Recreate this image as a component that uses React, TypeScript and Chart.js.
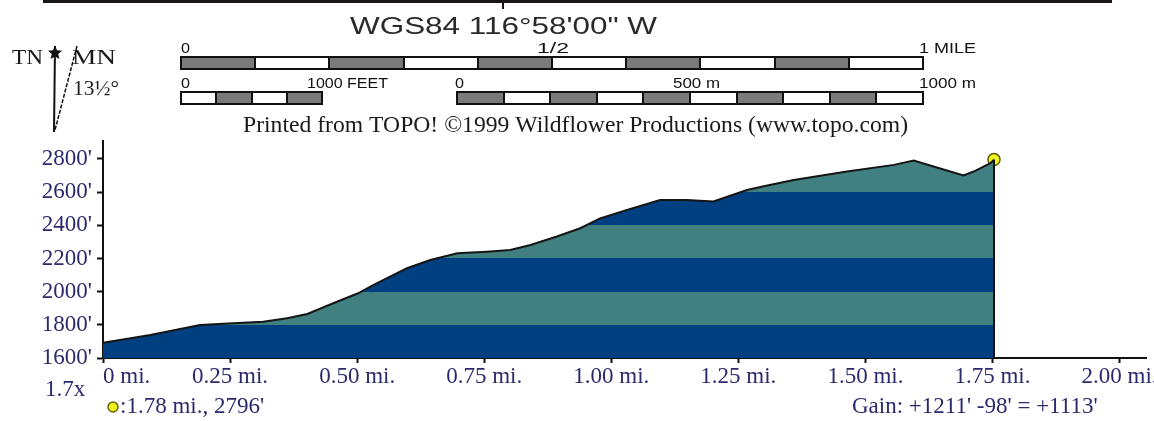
import React, { useEffect, useRef } from 'react';
import { Chart, registerables } from 'chart.js';

Chart.register(...registerables);

const distances = [0, 0.093, 0.191, 0.256, 0.315, 0.362, 0.402, 0.453, 0.502, 0.526, 0.551, 0.598, 0.644, 0.697, 0.755, 0.801, 0.841, 0.893, 0.939, 0.978, 1.031, 1.096, 1.149, 1.201, 1.267, 1.30, 1.359, 1.464, 1.556, 1.595, 1.634, 1.693, 1.713, 1.746, 1.753];
const elevations = [1692, 1739, 1799, 1809, 1819, 1839, 1865, 1930, 1990, 2030, 2070, 2141, 2191, 2231, 2241, 2251, 2281, 2332, 2382, 2442, 2492, 2553, 2553, 2543, 2613, 2635, 2673, 2724, 2764, 2790, 2754, 2700, 2724, 2774, 2796];

const xTickValues = [0, 0.25, 0.5, 0.75, 1.0, 1.25, 1.5, 1.75, 2.0];
const xTickLabels = ['0 mi.', '0.25 mi.', '0.50 mi.', '0.75 mi.', '1.00 mi.', '1.25 mi.', '1.50 mi.', '1.75 mi.', '2.00 mi.'];
const yTickValues = [1600, 1800, 2000, 2200, 2400, 2600, 2800];
const yTickLabels = ["1600'", "1800'", "2000'", "2200'", "2400'", "2600'", "2800'"];

const markerLabel = ':1.78 mi., 2796\'';
const gainLabel = "Gain: +1211' -98' = +1113'";
const scaleLabel = '1.7x';
const datumLabel = 'WGS84 116°58\'00" W';
const printedLabel = 'Printed from TOPO! ©1999 Wildflower Productions (www.topo.com)';

// ---- styling constants ----
const X_MAX = 2.053;
const Y_MIN = 1600;
const Y_MAX = 2908;
const BAND_STEP = 200;
const BAND_TOP = 3000;
const BLUE = '#004080';
const TEAL = '#408080';
const NAVY = '#2a2a6c';
const SERIF = '"Liberation Serif", "Times New Roman", serif';
const SANS = '"Liberation Sans", Arial, sans-serif';
const GRAY = '#7a7a7a';

function drawFit(ctx: CanvasRenderingContext2D, text: string, x: number, base: number, font: string, width: number | null, color: string, align: 'left' | 'center' = 'left') {
  ctx.save();
  ctx.font = font;
  ctx.fillStyle = color;
  ctx.textBaseline = 'alphabetic';
  ctx.textAlign = 'left';
  const w = ctx.measureText(text).width;
  const target = width == null ? w : width;
  const sx = target / w;
  const left = align === 'center' ? x - target / 2 : x;
  ctx.translate(left, base);
  ctx.scale(sx, 1);
  ctx.fillText(text, 0, 0);
  ctx.restore();
}

function drawBar(ctx: CanvasRenderingContext2D, x0: number, x1: number, y0: number, y1: number, n: number, firstGray: boolean) {
  const w = (x1 - x0) / n;
  for (let i = 0; i < n; i++) {
    const gray = (i % 2 === 0) === firstGray;
    ctx.fillStyle = gray ? GRAY : '#ffffff';
    ctx.fillRect(x0 + i * w, y0, w, y1 - y0);
  }
  ctx.strokeStyle = '#111';
  ctx.lineWidth = 2;
  ctx.strokeRect(x0, y0, x1 - x0, y1 - y0);
  ctx.beginPath();
  for (let i = 1; i < n; i++) {
    const x = Math.round(x0 + i * w);
    ctx.moveTo(x, y0);
    ctx.lineTo(x, y1);
  }
  ctx.stroke();
}

function drawStar(ctx: CanvasRenderingContext2D, cx: number, cy: number, r: number) {
  ctx.beginPath();
  for (let i = 0; i < 10; i++) {
    const a = -Math.PI / 2 + (i * Math.PI) / 5;
    const rr = i % 2 === 0 ? r : r * 0.45;
    const px = cx + rr * Math.cos(a);
    const py = cy + rr * Math.sin(a);
    if (i === 0) ctx.moveTo(px, py); else ctx.lineTo(px, py);
  }
  ctx.closePath();
  ctx.fill();
}

const decorPlugin = {
  id: 'topoDecor',
  afterDatasetsDraw(chart: any) {
    const ctx: CanvasRenderingContext2D = chart.ctx;
    const meta = chart.getDatasetMeta(0);
    const last = meta.data[meta.data.length - 1];
    if (last) {
      ctx.save();
      ctx.strokeStyle = '#111';
      ctx.lineWidth = 2;
      ctx.beginPath();
      ctx.moveTo(last.x, last.y);
      ctx.lineTo(last.x, chart.chartArea.bottom);
      ctx.stroke();
      ctx.restore();
    }
  },
  afterDraw(chart: any) {
    const ctx: CanvasRenderingContext2D = chart.ctx;
    ctx.save();
    ctx.fillStyle = '#1a1414';
    ctx.fillRect(43, 0, 1069, 3);
    ctx.fillRect(502, 0, 2, 9);

    drawFit(ctx, datumLabel, 350, 34, `24px ${SANS}`, 307, '#2a2a2a');

    drawBar(ctx, 181, 923, 57, 69, 10, true);
    drawBar(ctx, 181, 322, 92, 104, 4, false);
    drawBar(ctx, 457, 923, 92, 104, 10, true);
    const small = `15px ${SANS}`;
    drawFit(ctx, '0', 181, 53, small, 9, '#111');
    drawFit(ctx, '1/2', 553, 53, small, 32, '#111', 'center');
    drawFit(ctx, '1 MILE', 919, 53, small, 57, '#111');
    drawFit(ctx, '0', 181, 88, small, 9, '#111');
    drawFit(ctx, '1000 FEET', 307, 88, small, 81, '#111');
    drawFit(ctx, '0', 455, 88, small, 9, '#111');
    drawFit(ctx, '500 m', 673, 88, small, 47, '#111');
    drawFit(ctx, '1000 m', 919, 88, small, 57, '#111');

    drawFit(ctx, printedLabel, 243, 132, `23px ${SERIF}`, 665, '#1a1a1a');

    // north arrow
    ctx.strokeStyle = '#111';
    ctx.fillStyle = '#111';
    ctx.lineWidth = 2;
    ctx.beginPath();
    ctx.moveTo(55, 46);
    ctx.lineTo(54, 132);
    ctx.stroke();
    drawStar(ctx, 55, 53, 7.5);
    ctx.lineWidth = 1.5;
    ctx.setLineDash([4, 1.5]);
    ctx.beginPath();
    ctx.moveTo(77, 46);
    ctx.lineTo(55, 130);
    ctx.stroke();
    ctx.setLineDash([]);
    drawFit(ctx, 'TN', 12, 64, `20px ${SERIF}`, 31, '#1a1a1a');
    drawFit(ctx, 'MN', 72, 64, `20px ${SERIF}`, 44, '#1a1a1a');
    drawFit(ctx, '13½°', 73, 95, `20px ${SERIF}`, 46, '#1a1a1a');

    // footer
    const foot = `23px ${SERIF}`;
    drawFit(ctx, scaleLabel, 45, 396, foot, null, NAVY);
    ctx.beginPath();
    ctx.arc(113, 407, 5, 0, Math.PI * 2);
    ctx.fillStyle = '#f0f020';
    ctx.fill();
    ctx.strokeStyle = '#666600';
    ctx.lineWidth = 1.5;
    ctx.stroke();
    drawFit(ctx, markerLabel, 120, 413, foot, null, NAVY);
    drawFit(ctx, gainLabel, 852, 413, foot, null, NAVY);
    ctx.restore();
  },
};

function bandFill(c: any) {
  const chart = c.chart;
  if (!chart.chartArea) return BLUE;
  const ys = chart.scales.y;
  const y0 = ys.getPixelForValue(Y_MIN);
  const y1 = ys.getPixelForValue(BAND_TOP);
  const g = chart.ctx.createLinearGradient(0, y0, 0, y1);
  const n = (BAND_TOP - Y_MIN) / BAND_STEP;
  for (let i = 0; i < n; i++) {
    const col = i % 2 === 0 ? BLUE : TEAL;
    g.addColorStop(i / n, col);
    g.addColorStop((i + 1) / n, col);
  }
  return g;
}

export default function App() {
  const ref = useRef<HTMLCanvasElement | null>(null);
  useEffect(() => {
    if (!ref.current) return;
    const points = distances.map((d, i) => ({ x: d, y: elevations[i] }));
    const lastIdx = points.length - 1;
    const chart = new Chart(ref.current, {
      type: 'line',
      data: {
        datasets: [
          {
            data: points,
            fill: 'start',
            backgroundColor: bandFill as any,
            borderColor: '#151515',
            borderWidth: 2,
            pointRadius: 0,
            tension: 0,
          },
          {
            data: [points[lastIdx]],
            showLine: false,
            pointRadius: 6,
            pointBackgroundColor: '#f2f21e',
            pointBorderColor: '#5a5a00',
            pointBorderWidth: 1.5,
          },
        ],
      },
      options: {
        responsive: false,
        maintainAspectRatio: false,
        animation: false,
        devicePixelRatio: 1,
        events: [],
        layout: { padding: { top: 141, left: 0, right: 0, bottom: 0 } },
        plugins: { legend: { display: false }, tooltip: { enabled: false }, title: { display: false } },
        scales: {
          x: {
            type: 'linear',
            min: 0,
            max: X_MAX,
            afterBuildTicks: (s: any) => {
              s.ticks = [...xTickValues.map((v) => ({ value: v })), { value: X_MAX }];
            },
            afterFit: (s: any) => {
              s.height = 63;
            },
            ticks: {
              autoSkip: false,
              maxRotation: 0,
              minRotation: 0,
              align: 'inner',
              padding: 0,
              color: NAVY,
              font: { family: SERIF, size: 23 },
              callback: (_v: any, i: number) => (i < xTickLabels.length ? xTickLabels[i] : ''),
            },
            grid: {
              display: true,
              drawOnChartArea: false,
              drawTicks: true,
              tickLength: 5,
              tickWidth: 2,
              color: '#111',
              tickColor: (c: any) => (c.index >= xTickValues.length ? 'rgba(0,0,0,0)' : '#111'),
            },
            border: { display: true, color: '#111', width: 2 },
          },
          y: {
            type: 'linear',
            min: Y_MIN,
            max: Y_MAX,
            afterBuildTicks: (s: any) => {
              s.ticks = yTickValues.map((v) => ({ value: v }));
            },
            afterFit: (s: any) => {
              s.width = 103;
            },
            ticks: {
              autoSkip: false,
              padding: 5,
              color: NAVY,
              font: { family: SERIF, size: 23 },
              callback: (_v: any, i: number) => yTickLabels[i],
            },
            grid: {
              display: true,
              drawOnChartArea: false,
              drawTicks: true,
              tickLength: 6,
              tickWidth: 2,
              color: '#111',
            },
            border: { display: true, color: '#111', width: 2 },
          },
        },
      },
      plugins: [decorPlugin],
    } as any);
    return () => chart.destroy();
  }, []);
  return (
    <div style={{ position: 'absolute', left: 0, top: 0, width: 1154, height: 421, background: '#ffffff', overflow: 'hidden' }}>
      <canvas ref={ref} width={1154} height={421} style={{ display: 'block', width: 1154, height: 421 }} />
    </div>
  );
}
